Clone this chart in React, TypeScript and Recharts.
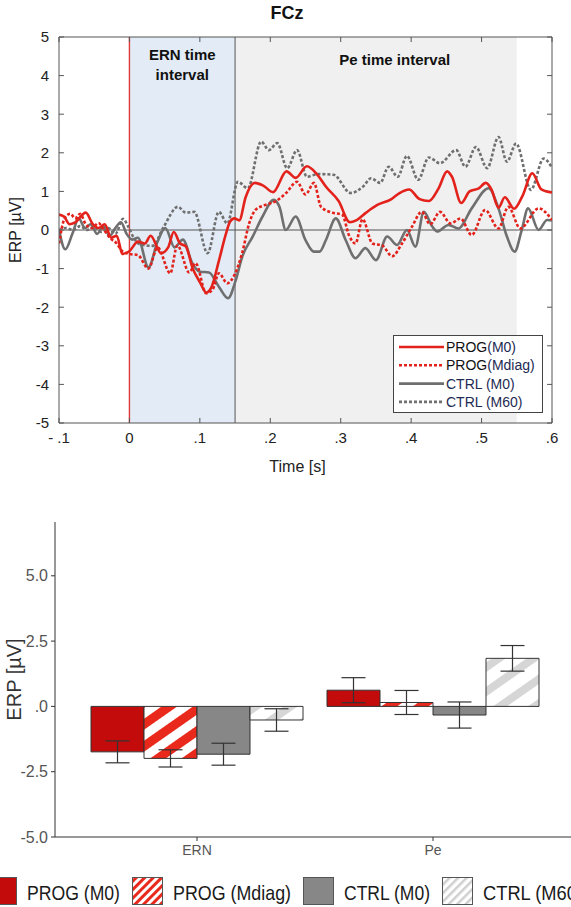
import React from "react"
import {
    LineChart,
    Line,
    XAxis,
    YAxis,
    ReferenceArea,
    ReferenceLine,
    Legend,
    BarChart,
    Bar,
    ErrorBar,
} from "recharts"

// ---------- top panel: grand average ERP at FCz ----------
const timeTicks = [-0.1, 0, 0.1, 0.2, 0.3, 0.4, 0.5, 0.6]
const erpTicks = [-5, -4, -3, -2, -1, 0, 1, 2, 3, 4, 5]

// [time (s), amplitude (µV)]
const progM0Wave = [
    [-0.1, 0.4], [-0.093, 0.35], [-0.085, 0.15], [-0.077, 0.2], [-0.062, 0.45], [-0.052, 0.15],
    [-0.044, 0.05], [-0.035, 0.15], [-0.026, -0.2], [-0.018, -0.15], [-0.01, -0.62], [0, -0.55],
    [0.012, -0.3], [0.022, -0.35], [0.03, -0.15], [0.045, -0.6], [0.055, -0.45], [0.063, -0.05],
    [0.072, -0.35], [0.08, -0.42], [0.09, -1.0], [0.1, -1.35], [0.109, -1.62], [0.116, -1.5],
    [0.127, -0.8], [0.137, -0.1], [0.143, 0.22], [0.149, 0.3], [0.156, 0.25], [0.165, 0.85],
    [0.178, 1.22], [0.19, 1.15], [0.204, 0.98], [0.223, 1.52], [0.236, 1.35], [0.252, 1.65],
    [0.266, 1.45], [0.28, 1.1], [0.297, 0.75], [0.313, 0.2], [0.322, 0.25], [0.336, 0.45],
    [0.352, 0.65], [0.372, 0.8], [0.383, 0.95], [0.397, 1.05], [0.412, 0.8], [0.425, 0.75],
    [0.439, 1.08], [0.451, 1.52], [0.458, 1.38], [0.471, 0.7], [0.483, 1.0], [0.496, 1.08],
    [0.506, 1.22], [0.514, 1.05], [0.524, 0.58], [0.533, 0.85], [0.546, 0.55], [0.558, 0.88],
    [0.572, 1.47], [0.585, 1.05], [0.6, 0.97],
]

const progMdiagWave = [
    [-0.1, -0.35], [-0.092, 0.3], [-0.084, 0.42], [-0.077, 0.3], [-0.07, 0.42], [-0.062, 0.15],
    [-0.053, 0.05], [-0.044, 0.18], [-0.036, 0.0], [-0.028, -0.2], [-0.018, -0.35], [-0.01, -0.55],
    [0, -0.62], [0.012, -0.65], [0.027, -1.0], [0.04, -0.45], [0.058, -1.12], [0.068, -0.4],
    [0.085, -1.1], [0.094, -0.86], [0.109, -1.64], [0.118, -1.55], [0.127, -1.12], [0.139, -1.38],
    [0.149, -1.17], [0.16, -0.6], [0.17, 0.17], [0.179, 0.52], [0.193, 0.65], [0.208, 0.75],
    [0.222, 0.95], [0.238, 1.25], [0.25, 0.92], [0.262, 1.22], [0.272, 0.6], [0.288, 0.45],
    [0.302, 0.4], [0.312, -0.15], [0.321, -0.35], [0.331, 0.28], [0.345, -0.35], [0.359, -0.4],
    [0.373, -0.68], [0.387, -0.35], [0.401, 0.08], [0.415, 0.47], [0.427, 0.15], [0.441, 0.47],
    [0.456, 0.17], [0.47, 0.3], [0.486, -0.13], [0.505, 0.52], [0.524, 0.04], [0.538, 0.6],
    [0.555, 0.04], [0.581, 0.56], [0.6, 0.26],
]

const ctrlM0Wave = [
    [-0.1, 0.0], [-0.091, -0.5], [-0.081, -0.1], [-0.072, 0.3], [-0.063, 0.05], [-0.055, 0.15],
    [-0.046, -0.1], [-0.037, 0.1], [-0.028, -0.15], [-0.02, 0.05], [-0.012, 0.2], [-0.004, -0.1],
    [0.004, -0.25], [0.012, -0.2], [0.027, -0.97], [0.04, -0.3], [0.051, 0.05], [0.064, -0.45],
    [0.076, -0.25], [0.089, -0.85], [0.1, -1.08], [0.113, -1.1], [0.127, -1.47], [0.14, -1.77],
    [0.151, -1.3], [0.16, -0.7], [0.175, -0.17], [0.189, 0.35], [0.205, 0.78], [0.213, 0.6],
    [0.222, 0.0], [0.236, 0.35], [0.25, -0.26], [0.262, -0.56], [0.27, -0.56], [0.279, -0.26],
    [0.293, 0.3], [0.307, -0.26], [0.321, -0.73], [0.335, -0.47], [0.35, -0.78], [0.366, -0.17],
    [0.38, -0.39], [0.394, 0.0], [0.406, -0.43], [0.418, 0.47], [0.43, 0.09], [0.437, -0.04],
    [0.453, 0.13], [0.467, 0.04], [0.486, 0.56], [0.51, 1.08], [0.524, 0.56], [0.536, -0.17],
    [0.547, -0.56], [0.557, 0.0], [0.566, 0.56], [0.581, 0.0], [0.593, 0.26], [0.6, 0.25],
]

const ctrlM60Wave = [
    [-0.1, 0.0], [-0.09, 0.05], [-0.08, 0.0], [-0.07, 0.1], [-0.06, 0.0], [-0.05, 0.08],
    [-0.04, -0.05], [-0.03, 0.05], [-0.02, -0.1], [-0.009, 0.29], [-0.002, 0.1], [0.006, -0.2],
    [0.015, -0.37], [0.033, -0.41], [0.048, 0.06], [0.069, 0.6], [0.08, 0.45], [0.092, 0.47],
    [0.111, -0.6], [0.127, 0.47], [0.139, 0.17], [0.154, 1.25], [0.168, 1.08], [0.187, 2.29],
    [0.198, 2.07], [0.21, 2.25], [0.224, 1.6], [0.238, 2.07], [0.252, 1.38], [0.268, 1.45],
    [0.29, 1.43], [0.314, 0.96], [0.332, 1.13], [0.343, 1.34], [0.356, 1.22], [0.368, 1.64],
    [0.381, 1.38], [0.394, 1.92], [0.41, 1.3], [0.425, 1.88], [0.441, 1.73], [0.464, 2.07],
    [0.477, 1.64], [0.492, 2.15], [0.508, 1.6], [0.524, 2.41], [0.536, 1.77], [0.549, 2.24],
    [0.57, 1.04], [0.588, 1.85], [0.6, 1.62],
]

// ---------- bottom panel: mean amplitude per component ----------
const components = ["ERN", "Pe"]
const progM0Mean = [-1.74, 0.62]
const progM0Se = [0.42, 0.48]
const progMdiagMean = [-1.99, 0.15]
const progMdiagSe = [0.33, 0.46]
const ctrlM0Mean = [-1.83, -0.33]
const ctrlM0Se = [0.42, 0.5]
const ctrlM60Mean = [-0.52, 1.84]
const ctrlM60Se = [0.43, 0.49]
const barTicks = [-5, -2.5, 0, 2.5, 5]

const RED = "#e3221c"
const DARK_RED = "#c30b0b"
const GREY_LINE = "#6f6f6f"
const GREY_BAR = "#878787"
const NARROW = '"Liberation Sans Narrow", "Liberation Sans", Arial, sans-serif'
const SANS = '"Liberation Sans", Arial, sans-serif'

const toPoints = (arr: number[][]) => arr.map(([t, v]) => ({ t, v }))

const waveSeries = [
    { key: "ctrlM60", pts: toPoints(ctrlM60Wave), color: GREY_LINE, dash: "3 2" },
    { key: "ctrlM0", pts: toPoints(ctrlM0Wave), color: GREY_LINE, dash: undefined },
    { key: "progMdiag", pts: toPoints(progMdiagWave), color: RED, dash: "3 2" },
    { key: "progM0", pts: toPoints(progM0Wave), color: RED, dash: undefined },
]

const waveLegend = [
    { head: "PROG", tail: "(M0)", color: RED, dash: undefined },
    { head: "PROG", tail: "(Mdiag)", color: RED, dash: "3 2" },
    { head: "CTRL", tail: " (M0)", color: GREY_LINE, dash: undefined },
    { head: "CTRL", tail: " (M60)", color: GREY_LINE, dash: "3 2" },
]

const fmtTime = (v: number) => {
    if (v < 0) return "- .1"
    if (v === 0) return "0"
    return "." + Math.round(v * 10)
}

function WaveLegend() {
    return (
        <svg width={150} height={78} style={{ display: "block" }}>
            <rect x={0.5} y={0.5} width={149} height={77} fill="#fff" stroke="#444" />
            {waveLegend.map((d, i) => {
                const y = 12 + i * 18.3
                return (
                    <g key={i}>
                        <line x1={6} x2={51} y1={y} y2={y} stroke={d.color} strokeWidth={2.6} strokeDasharray={d.dash} />
                        <text x={53} y={y} dominantBaseline="central" fontSize={14} fontFamily={NARROW}>
                            <tspan fill={d.head === "PROG" ? "#111" : "#1d2b53"}>{d.head}</tspan>
                            <tspan fill="#1d2b53">{d.tail}</tspan>
                        </text>
                    </g>
                )
            })}
        </svg>
    )
}

function WavePanel() {
    return (
        <LineChart width={571} height={480} margin={{ top: 37, right: 19, bottom: 27, left: 0 }}>
            <ReferenceArea
                x1={0}
                x2={0.15}
                fill="#e3ecf6"
                fillOpacity={1}
                stroke="none"
                label={(p: any) => (
                    <text x={p.viewBox.x + p.viewBox.width / 2} y={p.viewBox.y + 23} textAnchor="middle" fontSize={15} fontWeight="bold" fontFamily={NARROW} fill="#111">
                        <tspan x={p.viewBox.x + p.viewBox.width / 2} dy={0}>ERN time</tspan>
                        <tspan x={p.viewBox.x + p.viewBox.width / 2} dy={20}>interval</tspan>
                    </text>
                )}
            />
            <ReferenceArea
                x1={0.15}
                x2={0.55}
                fill="#f0f0f0"
                fillOpacity={1}
                stroke="none"
                label={(p: any) => (
                    <text x={p.viewBox.x + p.viewBox.width * 0.567} y={p.viewBox.y + 28} textAnchor="middle" fontSize={15} fontWeight="bold" fontFamily={NARROW} fill="#111">
                        Pe time interval
                    </text>
                )}
            />
            <XAxis
                type="number"
                dataKey="t"
                domain={[-0.1, 0.6]}
                ticks={timeTicks}
                tickFormatter={fmtTime}
                allowDataOverflow
                tickLine={false}
                tickSize={0}
                tickMargin={9}
                height={30}
                axisLine={{ stroke: "#555" }}
                tick={{ fontSize: 15, fill: "#222", fontFamily: NARROW }}
                label={(p: any) => (
                    <text x={p.viewBox.x + p.viewBox.width / 2 - 8} y={p.viewBox.y + 43} textAnchor="middle" dominantBaseline="central" fontSize={16} fontFamily={NARROW} fill="#222">
                        Time [s]
                    </text>
                )}
            />
            <YAxis
                type="number"
                domain={[-5, 5]}
                ticks={erpTicks}
                allowDataOverflow
                width={59}
                tickLine={false}
                tickSize={0}
                tickMargin={10}
                axisLine={{ stroke: "#555" }}
                tick={{ fontSize: 15, fill: "#222", fontFamily: NARROW }}
                label={(p: any) => (
                    <text x={15} y={p.viewBox.y + p.viewBox.height / 2} textAnchor="middle" dominantBaseline="central" fontSize={16} fontFamily={NARROW} fill="#222" transform={`rotate(-90 15 ${p.viewBox.y + p.viewBox.height / 2})`}>
                        ERP [µV]
                    </text>
                )}
            />
            <ReferenceLine y={0} stroke="#555" strokeWidth={1} />
            <ReferenceLine x={0} stroke="#e03a3a" strokeWidth={1.4} />
            <ReferenceLine x={0.15} stroke="#555" strokeWidth={1} />
            <ReferenceLine y={5} stroke="#555" />
            <ReferenceLine x={0.6} stroke="#555" />
            {timeTicks.map((t) => (
                <ReferenceLine key={"b" + t} segment={[{ x: t, y: -5 }, { x: t, y: -4.87 }]} stroke="#555" />
            ))}
            {timeTicks.map((t) => (
                <ReferenceLine key={"t" + t} segment={[{ x: t, y: 5 }, { x: t, y: 4.87 }]} stroke="#555" />
            ))}
            {erpTicks.map((v) => (
                <ReferenceLine key={"l" + v} segment={[{ x: -0.1, y: v }, { x: -0.093, y: v }]} stroke="#555" />
            ))}
            {erpTicks.map((v) => (
                <ReferenceLine key={"r" + v} segment={[{ x: 0.6, y: v }, { x: 0.593, y: v }]} stroke="#555" />
            ))}
            {waveSeries.map((s) => (
                <Line
                    key={s.key}
                    data={s.pts}
                    dataKey="v"
                    type="monotone"
                    stroke={s.color}
                    strokeWidth={2.6}
                    strokeDasharray={s.dash}
                    dot={false}
                    activeDot={false}
                    isAnimationActive={false}
                />
            ))}
            <Legend
                layout="horizontal"
                verticalAlign="middle"
                align="center"
                wrapperStyle={{ left: 393, top: 335, width: 150, height: 78 }}
                content={() => <WaveLegend />}
            />
        </LineChart>
    )
}

// ---------- bar panel ----------
const barRows = components.map((c, i) => ({
    comp: c,
    progM0: progM0Mean[i],
    progM0Err: progM0Se[i],
    progMdiag: progMdiagMean[i],
    progMdiagErr: progMdiagSe[i],
    ctrlM0: ctrlM0Mean[i],
    ctrlM0Err: ctrlM0Se[i],
    ctrlM60: ctrlM60Mean[i],
    ctrlM60Err: ctrlM60Se[i],
}))

const barSeries = [
    { key: "progM0", fill: DARK_RED, label: "PROG (M0)", key_fill: DARK_RED, textW: 93 },
    { key: "progMdiag", fill: "url(#hatchRed)", label: "PROG (Mdiag)", key_fill: "url(#keyRed)", textW: 118 },
    { key: "ctrlM0", fill: GREY_BAR, label: "CTRL (M0)", key_fill: GREY_BAR, textW: 86 },
    { key: "ctrlM60", fill: "url(#hatchGrey)", label: "CTRL (M60)", key_fill: "url(#keyGrey)", textW: 100 },
]

// bar centre on the hidden 0..2 position axis: group = 0.9 of the band, 4 bars
const barCentre = (cat: number, idx: number) => cat + 0.5 - 0.45 + 0.225 * (idx + 0.5)

const sigStar = { y: 6.74, text: "*", from: 1, to: 3 }
const sigTriple = { y: 5.65, text: "***", from: 2, to: 3 }

function BarLegend() {
    let x = -14
    const items = barSeries.map((s) => {
        const keyX = x
        const textX = keyX + 31 + 10
        x = textX + s.textW + 12
        return { ...s, keyX, textX }
    })
    return (
        <svg width={575} height={30} style={{ display: "block" }}>
            <defs>
                <pattern id="keyRed" patternUnits="userSpaceOnUse" width={6} height={6} patternTransform="rotate(-45)">
                    <rect width={6} height={6} fill="#fff" />
                    <rect width={6} height={3} fill="#e8291c" />
                </pattern>
                <pattern id="keyGrey" patternUnits="userSpaceOnUse" width={6} height={6} patternTransform="rotate(-45)">
                    <rect width={6} height={6} fill="#fff" />
                    <rect width={6} height={2.5} fill="#cfcfcf" />
                </pattern>
            </defs>
            {items.map((it) => (
                <g key={it.key}>
                    <rect x={it.keyX + 0.5} y={1.5} width={30} height={27} fill={it.key_fill} stroke="#555" />
                    <text
                        x={it.textX}
                        y={16}
                        dominantBaseline="central"
                        fontSize={21}
                        fontFamily={SANS}
                        fill="#1a1a1a"
                        textLength={it.textW}
                        lengthAdjust="spacingAndGlyphs"
                    >
                        {it.label}
                    </text>
                </g>
            ))}
        </svg>
    )
}

function SigLabel(p: any, text: string) {
    const vb = p.viewBox
    return (
        <text x={vb.x + vb.width / 2} y={vb.y + 5} textAnchor="middle" fontSize={20} fontWeight="bold" fill="#222" letterSpacing={text.length > 1 ? 3 : 0} fontFamily={SANS}>
            {text}
        </text>
    )
}

function BarPanel() {
    return (
        <BarChart
            width={575}
            height={417}
            data={barRows}
            margin={{ top: 32, right: 1, bottom: 32, left: 0 }}
            barCategoryGap={12}
            barGap={0}
        >
            <defs>
                <pattern id="hatchRed" patternUnits="userSpaceOnUse" width={18} height={18} patternTransform="rotate(-35)">
                    <rect width={18} height={18} fill="#fff" />
                    <rect width={18} height={9} fill="#e8291c" />
                </pattern>
                <pattern id="hatchGrey" patternUnits="userSpaceOnUse" width={20} height={20} patternTransform="rotate(-35)">
                    <rect width={20} height={20} fill="#fff" />
                    <rect width={20} height={8} fill="#d6d6d6" />
                </pattern>
            </defs>
            <XAxis
                dataKey="comp"
                padding={{ left: 24, right: 23 }}
                height={38}
                axisLine={{ stroke: "#333" }}
                tickLine={{ stroke: "#333" }}
                tickSize={4}
                tickMargin={4}
                tick={{ fontSize: 14, fill: "#555", fontFamily: NARROW }}
            />
            <XAxis xAxisId="pos" type="number" domain={[0, 2]} padding={{ left: 24, right: 23 }} hide />
            <YAxis
                domain={[-5, 7.06]}
                ticks={barTicks}
                allowDataOverflow
                width={55}
                axisLine={{ stroke: "#333" }}
                tickLine={{ stroke: "#333" }}
                tickSize={4}
                tickMargin={3}
                tickFormatter={(v: number) => (v === 0 ? ".0" : v.toFixed(1))}
                tick={{ fontSize: 16, fill: "#555", fontFamily: NARROW }}
                label={(p: any) => (
                    <text x={14} y={p.viewBox.y + p.viewBox.height / 2} textAnchor="middle" dominantBaseline="central" fontSize={20} fontFamily={SANS} fill="#333" transform={`rotate(-90 14 ${p.viewBox.y + p.viewBox.height / 2})`}>
                        ERP [µV]
                    </text>
                )}
            />
            {barSeries.map((s) => (
                <Bar key={s.key} dataKey={s.key} fill={s.fill} stroke="#333" strokeWidth={1} isAnimationActive={false}>
                    <ErrorBar dataKey={s.key + "Err"} width={12} stroke="#333" strokeWidth={1.2} direction="y" />
                </Bar>
            ))}
            {[sigStar, sigTriple].map((s) => (
                <ReferenceLine
                    key={s.text}
                    xAxisId="pos"
                    segment={[{ x: barCentre(1, s.from), y: s.y }, { x: barCentre(1, s.to), y: s.y }]}
                    stroke="#222"
                    strokeWidth={1.2}
                    label={(p: any) => SigLabel(p, s.text)}
                />
            ))}
            <Legend
                layout="horizontal"
                verticalAlign="middle"
                align="center"
                wrapperStyle={{ left: 0, top: 386, width: 575, height: 30 }}
                content={() => <BarLegend />}
            />
        </BarChart>
    )
}

export default function App() {
    return (
        <div style={{ position: "absolute", left: 0, top: 0, width: 571, height: 907, overflow: "hidden", background: "#fff" }}>
            <div style={{ position: "absolute", left: 0, top: 0 }}>
                <WavePanel />
            </div>
            <div style={{ position: "absolute", left: 252, top: 3, width: 70, textAlign: "center", fontFamily: NARROW, fontWeight: "bold", fontSize: 18, lineHeight: "20px", color: "#111" }}>
                FCz
            </div>
            <div style={{ position: "absolute", left: 0, top: 490 }}>
                <BarPanel />
            </div>
        </div>
    )
}
